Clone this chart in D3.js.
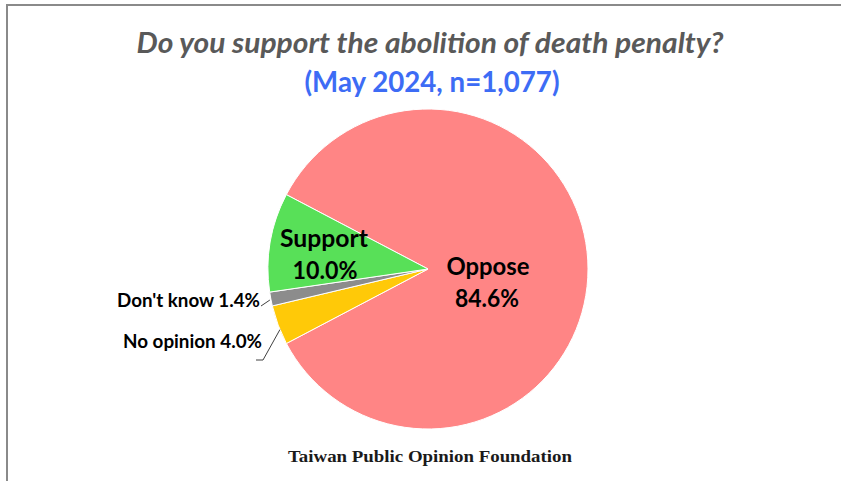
<!DOCTYPE html>
<html><head><meta charset="utf-8">
<script src="https://cdn.jsdelivr.net/npm/d3@7"></script>
<style>html,body{margin:0;padding:0;background:#fff;overflow:hidden}</style>
</head><body>
<svg id="c" width="841" height="481"></svg>
<script>
const categories = ["Oppose", "No opinion", "Don't know", "Support"];
const values = [84.6, 4.0, 1.4, 10.0];
const colors = ["#FF8585", "#FFC908", "#8C8C8C", "#58E058"];
const titleText = "Do you support the abolition of death penalty?";
const subtitleText = "(May 2024, n=1,077)";
const sourceText = "Taiwan Public Opinion Foundation";

const svg = d3.select("#c");
svg.append("rect").attr("x",7).attr("y",5).attr("width",900).attr("height",600)
  .attr("fill","#fff").attr("stroke","#8a8a8a").attr("stroke-width",2);

svg.append("text").attr("x",430).attr("y",53).attr("text-anchor","middle")
  .attr("font-family","Lato, 'Open Sans', sans-serif").attr("font-weight","bold").attr("font-style","italic")
  .attr("font-size",29).attr("fill","#595959")
  .attr("textLength",587).attr("lengthAdjust","spacingAndGlyphs").text(titleText);
svg.append("text").attr("x",432).attr("y",92).attr("text-anchor","middle")
  .attr("font-family","Lato, 'Open Sans', sans-serif").attr("font-weight","bold")
  .attr("font-size",28).attr("fill","#3D6CF5")
  .attr("textLength",255).attr("lengthAdjust","spacingAndGlyphs").text(subtitleText);

const cx = 428, cy = 269, R = 160;
const start = -62.3 * Math.PI / 180;
const pie = d3.pie().sort(null).value(d => d).startAngle(start).endAngle(start + 2*Math.PI);
const arcs = pie(values);
const arc = d3.arc().innerRadius(0).outerRadius(R);
const g = svg.append("g").attr("transform", `translate(${cx},${cy})`);
g.selectAll("path").data(arcs).join("path")
  .attr("d", arc).attr("fill", (d,i) => colors[i])
  .attr("stroke","#fff").attr("stroke-width",1);

const lbl = svg.append("g").attr("font-family","Lato, 'Open Sans', sans-serif").attr("font-weight","bold").attr("fill","#000");
function big(x, y, w, txt){
  lbl.append("text").attr("x",x).attr("y",y).attr("text-anchor","middle").attr("font-size",24)
    .attr("textLength",w).attr("lengthAdjust","spacingAndGlyphs").text(txt);
}
big(324, 247, 88, categories[3]);
big(325, 279, 65, d3.format(".1f")(values[3]) + "%");
big(488, 275, 83, categories[0]);
big(487, 307, 64, d3.format(".1f")(values[0]) + "%");

function small(xr, y, w, txt){
  lbl.append("text").attr("x",xr).attr("y",y).attr("text-anchor","end").attr("font-size",18)
    .attr("textLength",w).attr("lengthAdjust","spacingAndGlyphs").text(txt);
}
small(260, 307, 143, categories[2] + " " + d3.format(".1f")(values[2]) + "%");
small(262, 348, 139, categories[1] + " " + d3.format(".1f")(values[1]) + "%");

// leader lines
const pt = (a, r) => [cx + r*Math.sin(a), cy - r*Math.cos(a)];
const dk = arcs[2], no = arcs[1];
const pdk = pt((dk.startAngle+dk.endAngle)/2, R);
const pno = pt((no.startAngle+no.endAngle)/2 - 0.03, R);
svg.append("polyline").attr("points", `261,306 ${pdk[0]-1},${pdk[1]+1}`)
  .attr("fill","none").attr("stroke","#404040").attr("stroke-width",1);
svg.append("polyline").attr("points", `256,360 263,360 ${pno[0]},${pno[1]}`)
  .attr("fill","none").attr("stroke","#404040").attr("stroke-width",1);

svg.append("text").attr("x",430).attr("y",462).attr("text-anchor","middle")
  .attr("font-family","'Liberation Serif', serif").attr("font-weight","bold").attr("font-size",16)
  .attr("fill","#1a1a1a").attr("textLength",284).attr("lengthAdjust","spacingAndGlyphs").text(sourceText);
</script>
</body></html>
